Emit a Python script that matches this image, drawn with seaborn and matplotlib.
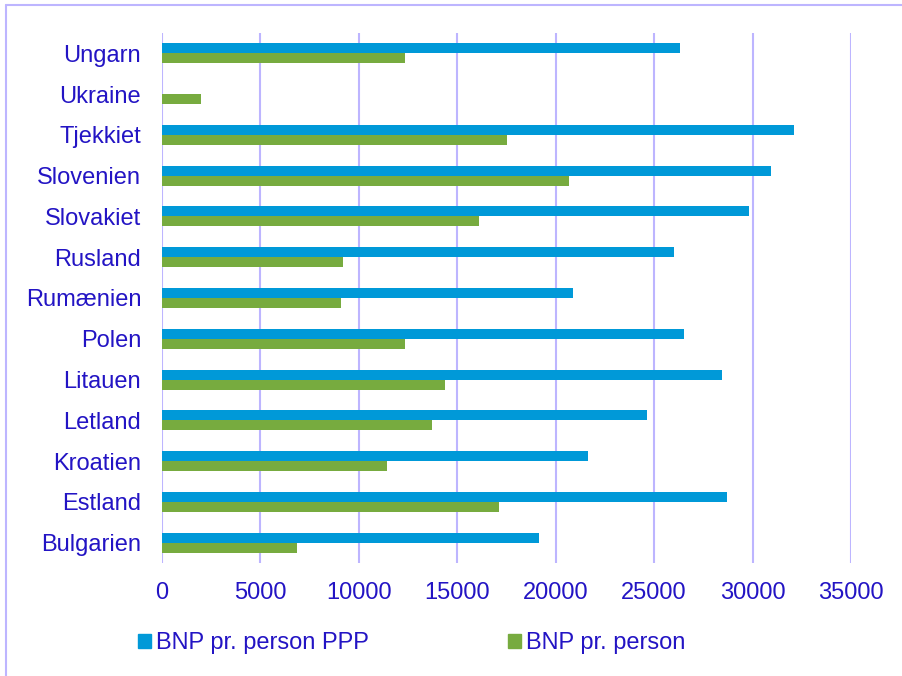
import numpy as np
import pandas as pd
import seaborn as sns
import matplotlib.pyplot as plt
from matplotlib.lines import Line2D

countries = ["Ungarn", "Ukraine", "Tjekkiet", "Slovenien", "Slovakiet", "Rusland",
             "Rumænien", "Polen", "Litauen", "Letland", "Kroatien", "Estland", "Bulgarien"]
bnp_ppp = [26300, np.nan, 32100, 30950, 29800, 26000, 20900, 26500, 28450, 24650, 21650, 28700, 19150]
bnp = [12350, 2000, 17550, 20700, 16100, 9200, 9100, 12350, 14400, 13700, 11450, 17100, 6850]
series_names = ["BNP pr. person PPP", "BNP pr. person"]
xticks = [0, 5000, 10000, 15000, 20000, 25000, 30000, 35000]

df = pd.DataFrame({
    "land": countries * 2,
    "serie": [series_names[0]] * len(countries) + [series_names[1]] * len(countries),
    "vaerdi": bnp_ppp + bnp,
})

sns.set_theme(style="white")
plt.rcParams["font.family"] = ["Liberation Sans", "DejaVu Sans"]

text_color = "#2314C4"
grid_color = "#BDB5FF"
palette = {series_names[0]: "#0099D8", series_names[1]: "#77AB3F"}

fig = plt.figure(figsize=(9.02, 6.76), dpi=100)
ax = fig.add_axes([162 / 902, 1 - 563 / 676, (851 - 162) / 902, (563 - 33) / 676])

sns.barplot(data=df, y="land", x="vaerdi", hue="serie", order=countries,
            hue_order=series_names, palette=palette, orient="h", width=0.49,
            gap=0, ax=ax, legend=False, saturation=1, linewidth=0)

ax.set_xlim(0, 35000)
ax.set_xticks(xticks)
ax.set_xticklabels([str(t) for t in xticks])
ax.set_xlabel("")
ax.set_ylabel("")
ax.set_axisbelow(True)
ax.grid(axis="x", color=grid_color, linewidth=1.5)
ax.grid(axis="y", visible=False)
for s in ax.spines.values():
    s.set_visible(False)
ax.tick_params(axis="both", length=0, labelsize=17, labelcolor=text_color)
ax.tick_params(axis="y", pad=15)
ax.tick_params(axis="x", pad=14)

handles = [plt.Rectangle((0, 0), 1, 1, color=palette[n]) for n in series_names]
fig.legend(handles, series_names, loc="center left", bbox_to_anchor=(138 / 902, 1 - 643 / 676),
           bbox_transform=fig.transFigure, ncol=2, frameon=False, fontsize=17,
           handlelength=0.55, handleheight=0.55, handletextpad=0.2, columnspacing=5.9,
           borderpad=0, borderaxespad=0, labelcolor=text_color)

# outer chart border (top and left visible)
fig.add_artist(Line2D([6 / 902, 1.0], [1 - 5 / 676, 1 - 5 / 676], transform=fig.transFigure,
                      color=grid_color, linewidth=1.5))
fig.add_artist(Line2D([6 / 902, 6 / 902], [0.0, 1 - 5 / 676], transform=fig.transFigure,
                      color=grid_color, linewidth=1.5))

fig.savefig("out.png", dpi=100)
